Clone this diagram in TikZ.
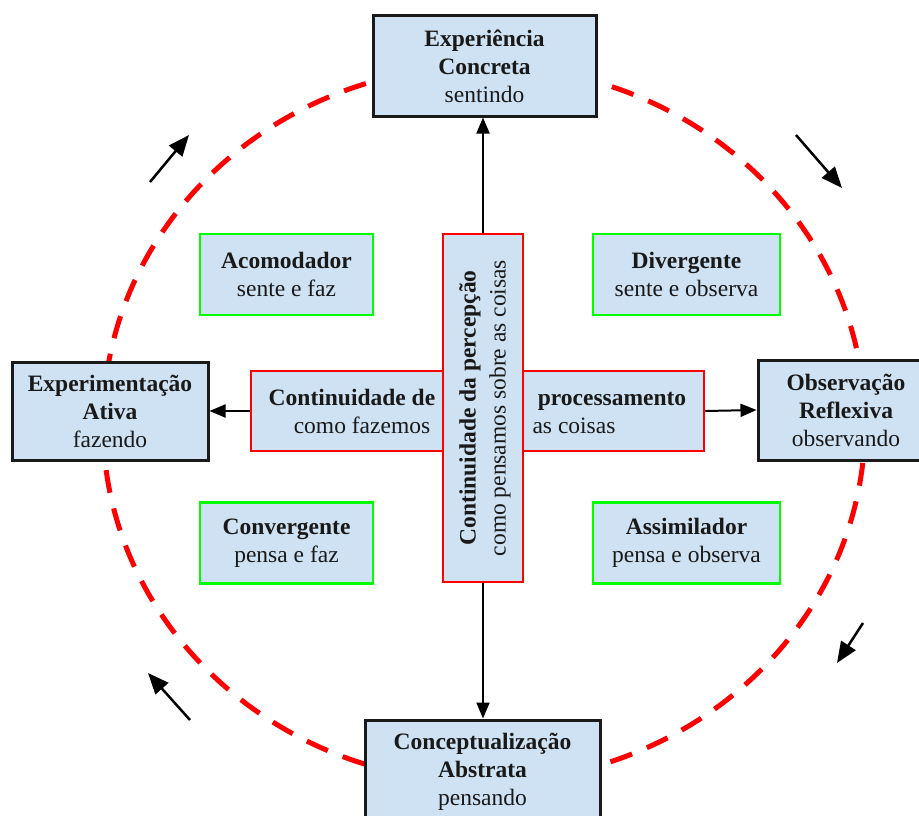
\documentclass[tikz,border=0pt]{standalone}
\usepackage{fontspec}
\setmainfont{Liberation Serif}
\usetikzlibrary{arrows.meta}
\definecolor{boxfill}{HTML}{CFE2F3}
\definecolor{ringred}{HTML}{FF0000}
\definecolor{quadgreen}{HTML}{00FF00}
\definecolor{edgedark}{HTML}{1A1A1A}

\begin{document}
\begin{tikzpicture}[x=1pt,y=-1pt,
  every node/.style={font=\fontsize{23.5}{28}\selectfont, inner sep=0pt, align=center, text=black!90},
  stagebox/.style={draw=edgedark, line width=3pt, fill=boxfill},
  quadbox/.style={draw=quadgreen, line width=2.5pt, fill=boxfill, minimum height=81pt},
  crossbar/.style={draw=ringred, line width=2.5pt, fill=boxfill},
  conn/.style={draw=black, line width=2pt, -{Triangle[length=16pt,width=13pt]}},
  flowarrow/.style={draw=black, line width=2.5pt, -{Triangle[length=21pt,width=17pt]}},
]
\useasboundingbox (0,0) rectangle (919,816);

% learning cycle ring
\draw[ringred, line width=5pt, dash pattern=on 23pt off 16pt]
  (484,424) ellipse [x radius=381, y radius=358];

% four stages of the cycle
\node[stagebox, minimum width=223pt, minimum height=100pt] (ec) at (484.5,66)
  {\textbf{Experiência}\\\textbf{Concreta}\\sentindo};
\node[stagebox, minimum width=235pt, minimum height=104pt] (ca) at (482.5,772)
  {\textbf{Conceptualização}\\\textbf{Abstrata}\\pensando};
\node[stagebox, minimum width=196pt, minimum height=98pt] (ea) at (110,411)
  {\textbf{Experimentação}\\\textbf{Ativa}\\fazendo};
\node[stagebox, minimum width=176pt, minimum height=100pt] (or) at (846,410)
  {\textbf{Observação}\\\textbf{Reflexiva}\\observando};

% learning styles
\node[quadbox, minimum width=173pt] (acom) at (286.5,274.5) {\textbf{Acomodador}\\sente e faz};
\node[quadbox, minimum width=187pt] (div) at (686.5,274.5) {\textbf{Divergente}\\sente e observa};
\node[quadbox, minimum width=173pt] (conv) at (286.5,543) {\textbf{Convergente}\\pensa e faz};
\node[quadbox, minimum width=187pt] (assim) at (686.5,543) {\textbf{Assimilador}\\pensa e observa};

% the two continua
\node[crossbar, minimum width=453pt, minimum height=80pt] (hbar) at (477.5,411) {};
\node[crossbar, minimum width=80pt, minimum height=348pt] (vbar) at (483,408) {};

\node[anchor=base] (h1) at (352,405) {\textbf{Continuidade de}};
\node[anchor=base] (h2) at (362,433) {como fazemos};
\node[anchor=base] (h3) at (612,405) {\textbf{processamento}};
\node[anchor=base] (h4) at (574,433) {as coisas};
\node[rotate=90] (vtext) at (485,408)
  {\textbf{Continuidade da percepção}\\[2pt]como pensamos sobre as coisas};

% connectors from the continua to the stages
\draw[conn] (vbar.north) -- (vbar.north |- ec.south);
\draw[conn] (vbar.south) -- (vbar.south |- ca.north);
\draw[conn] (hbar.west) -- (ea.east);
\draw[conn] (hbar.east) -- (or.west);

% direction of the cycle
\coordinate (tl1) at (150,182); \coordinate (tl2) at (189,135);
\coordinate (tr1) at (796,135); \coordinate (tr2) at (842,188);
\coordinate (br1) at (863,623); \coordinate (br2) at (837,663);
\coordinate (bl1) at (190,720); \coordinate (bl2) at (148,673);
\draw[flowarrow] (tl1) -- (tl2);
\draw[flowarrow] (tr1) -- (tr2);
\draw[flowarrow] (br1) -- (br2);
\draw[flowarrow] (bl1) -- (bl2);
\end{tikzpicture}
\end{document}
